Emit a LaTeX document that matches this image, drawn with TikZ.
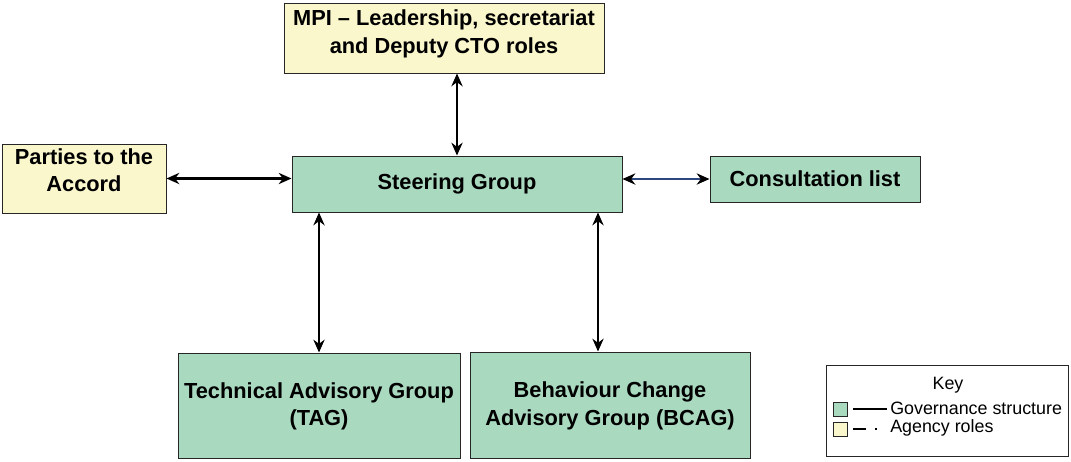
\documentclass[tikz,border=0pt]{standalone}
\usepackage{fontspec}
\setmainfont{Liberation Sans}
\definecolor{govgreen}{RGB}{169,217,191}
\definecolor{agencyyellow}{RGB}{251,247,204}
\definecolor{linkblue}{RGB}{45,70,125}
\begin{document}
\begin{tikzpicture}[x=0.025cm,y=-0.025cm,
	box/.style={draw=black!85, line width=0.7pt, align=center, inner sep=0pt,
		font=\bfseries\fontsize{15.5}{19.8}\selectfont},
	keysq/.style={draw=black!85, line width=0.6pt, minimum size=14*0.025cm, inner sep=0pt},
	keytxt/.style={font=\fontsize{12.7}{15}\selectfont, inner sep=0pt}
]
\usetikzlibrary{arrows.meta,calc}

% Same frame as the original figure
\path[use as bounding box] (0,0) rectangle (1071,461);

% Boxes
\newcommand{\abox}[6]{
	\node[box, #5, minimum width=#3*0.025cm, minimum height=#4*0.025cm]
		(#1) at (#2) {#6}
	;
}
\abox  {mpi}     {444,38}    {320} {70}  {fill=agencyyellow, text depth=9pt}  {MPI – Leadership, secretariat\\and Deputy CTO roles}
\abox  {parties} {84,178.5}  {164} {69}  {fill=agencyyellow, text depth=12pt} {Parties to the\\Accord}
\abox  {steer}   {457,184}   {330} {56}  {fill=govgreen}                      {Steering Group}
\abox  {consult} {815,179}   {210} {46}  {fill=govgreen}                      {Consultation list}
\abox  {tag}     {319,405.5} {282} {105} {fill=govgreen, text depth=2pt}      {Technical Advisory Group\\(TAG)}
\abox  {bcag}    {610,405}   {280} {106} {fill=govgreen, text depth=2pt}      {Behaviour Change\\Advisory Group (BCAG)}

% Arrows
\newcommand{\conn}[3]{
	\draw[{Stealth[length=0.32cm,width=0.28cm,color=black]}-{Stealth[length=0.32cm,width=0.28cm,color=black]},
		line width=0.06cm, #3]
		(#1) -- (#2)
	;
}
\conn  {steer.north |- mpi.south}          {steer.north}             {}
\conn  {parties.east}                      {parties.east -| steer.west} {}
\conn  {consult.west -| steer.east}        {consult.west}            {draw=linkblue}
\conn  {steer.south -| tag.north}          {tag.north}               {}
\conn  {$(steer.south -| bcag.north)+(-12,0)$} {$(bcag.north)+(-12,0)$} {}

% Key
\node[draw=black!85, line width=0.7pt, minimum width=242*0.025cm, minimum height=91*0.025cm]
	(key) at (947,410.5) {};
\node[keytxt] (keytitle) at (948,385) {Key};
\node[keysq, fill=govgreen]     (gsq) at (840,409) {};
\node[keysq, fill=agencyyellow] (ysq) at (840,429) {};
\coordinate (g1) at (853,409);
\coordinate (g2) at (887,409);
\coordinate (y1) at (853,429);
\coordinate (y2) at (878,429);
\draw[line width=0.05cm] (g1) -- (g2);
\draw[line width=0.05cm, dash pattern=on 0.33cm off 0.22cm on 0.05cm off 1cm] (y1) -- (y2);
\node[keytxt, anchor=west] (gtxt) at (890,408) {Governance structure};
\node[keytxt, anchor=west] (ytxt) at (890,428) {Agency roles};
\end{tikzpicture}
\end{document}
